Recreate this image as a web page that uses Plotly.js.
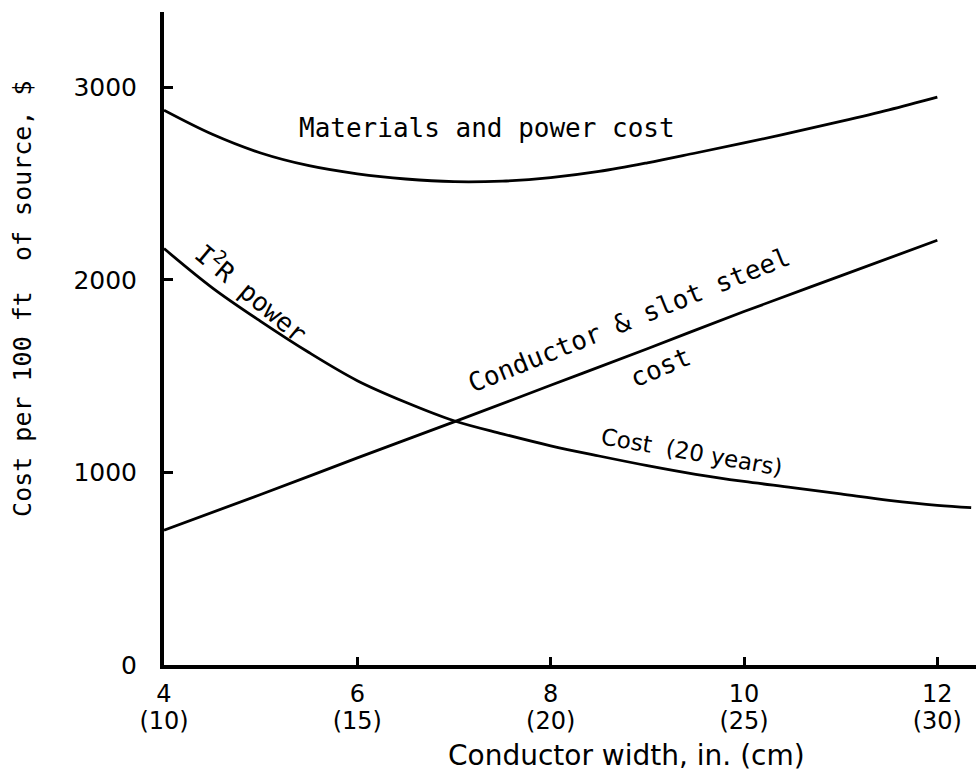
<!DOCTYPE html>
<html>
<head>
<meta charset="utf-8">
<script src="https://cdn.plot.ly/plotly-3.0.1.min.js"></script>
<style>html,body{margin:0;padding:0;background:#fff;}#chart{width:976px;height:771px;}</style>
</head>
<body>
<div id="chart"></div>
<script>
// Materials and power cost
const matX = [4, 4.5, 5, 5.5, 6, 6.5, 7, 7.5, 8, 8.5, 9, 9.5, 10, 10.5, 11, 11.5, 12];
const matY = [2880, 2755, 2658, 2592, 2550, 2523, 2509, 2512, 2530, 2562, 2607, 2658, 2710, 2765, 2822, 2882, 2948];
// Conductor & slot steel cost
const condX = [4, 5, 6, 7, 8, 9, 10, 11, 12];
const condY = [700, 885, 1075, 1262, 1452, 1642, 1835, 2020, 2205];
// I^2R power cost (20 years)
const i2rX = [4, 4.5, 5, 5.5, 6, 6.5, 7, 7.5, 8, 8.5, 9, 9.5, 10, 10.5, 11, 11.5, 12, 12.35];
const i2rY = [2162, 1958, 1784, 1622, 1476, 1364, 1268, 1200, 1138, 1085, 1035, 990, 953, 921, 888, 855, 829, 817];
// Axis ticks
const xTickVals = [4, 6, 8, 10, 12];
const xTickText = ['4', '6', '8', '10', '12'];
const xTickTextCm = ['(10)', '(15)', '(20)', '(25)', '(30)'];
const yTickVals = [0, 1000, 2000, 3000];
const yTickText = ['0', '1000', '2000', '3000'];

const mono = 'DejaVu Sans Mono, monospace';
const sans = 'DejaVu Sans, sans-serif';
const lineStyle = {color: '#000', width: 2.8, shape: 'spline', smoothing: 1};

const traces = [
  {x: matX, y: matY, mode: 'lines', line: lineStyle, name: 'Materials and power cost', hoverinfo: 'skip'},
  {x: condX, y: condY, mode: 'lines', line: lineStyle, name: 'Conductor & slot steel cost', hoverinfo: 'skip'},
  {x: i2rX, y: i2rY, mode: 'lines', line: lineStyle, name: 'I²R power cost (20 years)', hoverinfo: 'skip'},
  {x: [null], y: [null], xaxis: 'x2', yaxis: 'y', mode: 'lines', hoverinfo: 'skip', showlegend: false}
];

const layout = {
  width: 976, height: 771,
  margin: {l: 164, r: 0, t: 12, b: 106},
  paper_bgcolor: '#fff', plot_bgcolor: '#fff',
  showlegend: false,
  xaxis: {
    range: [4, 12.4], showgrid: false, zeroline: false,
    showline: true, linecolor: '#000', linewidth: 4,
    ticks: 'inside', ticklen: 8, tickwidth: 3, tickcolor: '#000',
    tickvals: xTickVals, ticktext: xTickText,
    tickfont: {family: sans, size: 24, color: '#000'},
    ticklabelstandoff: 4
  },
  xaxis2: {
    range: [4, 12.4], overlaying: 'x', anchor: 'y', side: 'bottom',
    showgrid: false, zeroline: false, showline: false, ticks: '',
    tickvals: xTickVals, ticktext: xTickTextCm,
    tickfont: {family: sans, size: 24, color: '#000'},
    ticklabelstandoff: 39
  },
  yaxis: {
    range: [0, 3390], showgrid: false, zeroline: false,
    showline: true, linecolor: '#000', linewidth: 4,
    ticks: 'inside', ticklen: 9, tickwidth: 3, tickcolor: '#000',
    tickvals: yTickVals, ticktext: yTickText,
    tickfont: {family: sans, size: 25, color: '#000'},
    ticklabelstandoff: 18
  },
  annotations: [
    {xref: 'paper', yref: 'paper', x: 0.569, y: -0.139, xanchor: 'center', yanchor: 'middle',
     text: 'Conductor width, in. (cm)', showarrow: false,
     font: {family: sans, size: 28, color: '#000'}},
    {xref: 'paper', yref: 'paper', x: -0.175, y: 0.562, xanchor: 'center', yanchor: 'middle',
     text: 'Cost per 100 ft\u00a0\u00a0of source, $', showarrow: false,
     textangle: -90, font: {family: mono, size: 25, color: '#000'}},
    {xref: 'x', yref: 'y', x: 7.34, y: 2787, text: 'Materials and power cost', showarrow: false,
     font: {family: mono, size: 26, color: '#000'}},
    {xref: 'x', yref: 'y', x: 4.91, y: 1936, text: 'I<sup>2</sup>R power', showarrow: false, textangle: 40,
     font: {family: mono, size: 26, color: '#000'}},
    {xref: 'x', yref: 'y', x: 8.81, y: 1790, text: 'Conductor & slot steel', showarrow: false, textangle: -22,
     font: {family: mono, size: 26, color: '#000'}},
    {xref: 'x', yref: 'y', x: 9.14, y: 1546, text: 'cost', showarrow: false, textangle: -23,
     font: {family: mono, size: 26, color: '#000'}},
    {xref: 'x', yref: 'y', x: 9.46, y: 1105, text: 'Cost\u00a0\u00a0(20 years)', showarrow: false, textangle: 10,
     font: {family: sans, size: 23, color: '#000'}}
  ]
};

Plotly.newPlot('chart', traces, layout, {staticPlot: true, displayModeBar: false});
</script>
</body>
</html>
